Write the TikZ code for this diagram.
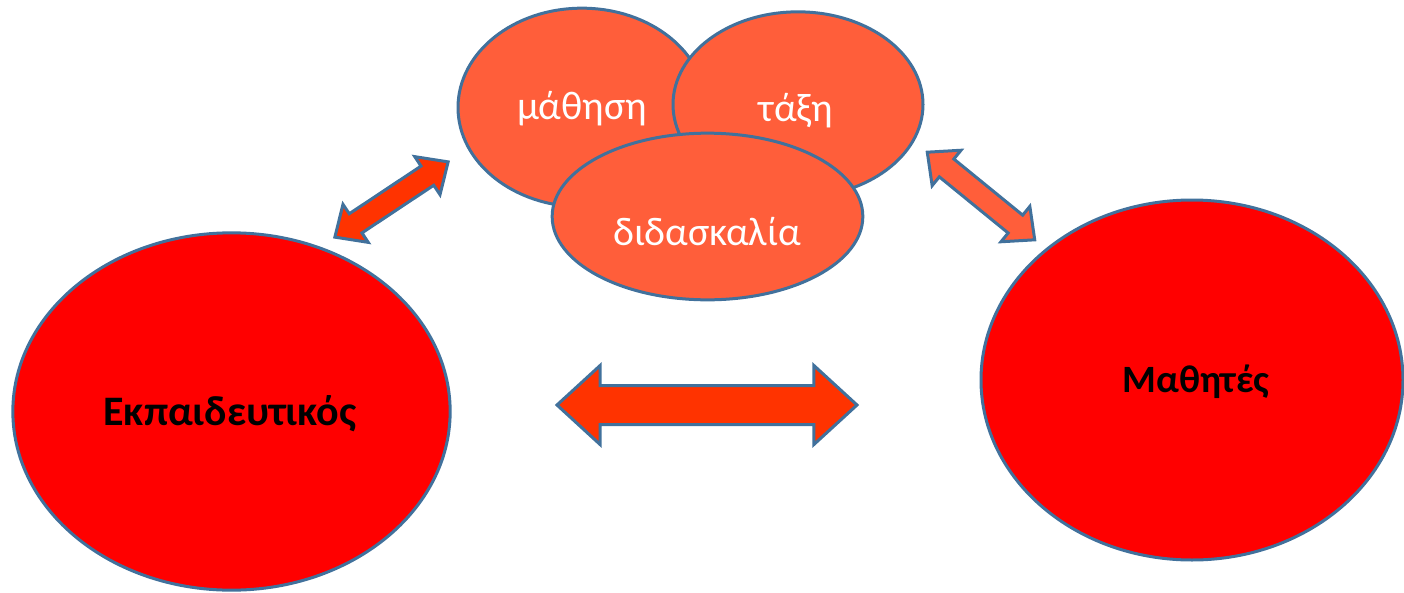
\documentclass[tikz,border=0pt]{standalone}
\usepackage{fontspec}
\setmainfont{Carlito}
\usetikzlibrary{shapes.geometric,shapes.arrows}
\definecolor{edgeblue}{HTML}{41719C}
\definecolor{bigred}{HTML}{FF0000}
\definecolor{smallorange}{HTML}{FF5E3A}
\definecolor{arrowred}{HTML}{FF3300}
\tikzset{
  bigell/.style={ellipse, draw=edgeblue, line width=2.25pt, fill=bigred, inner sep=0pt},
  smallell/.style={ellipse, draw=edgeblue, line width=2.25pt, fill=smallorange, inner sep=0pt},
  blockarr/.style={double arrow, draw=edgeblue, line width=2.25pt, double arrow tip angle=85},
  wlbl/.style={anchor=base, text=white, font=\fontsize{30}{36}\selectfont},
  blbl/.style={anchor=base, text=black, font=\bfseries\fontsize{30}{36}\selectfont},
}
\begin{document}
\begin{tikzpicture}[x=0.75pt,y=0.75pt,yscale=-1,xscale=1]
%set diagram left start at 0, and has height of 593
\useasboundingbox (0,0) rectangle (1404,593);

%Shape: Ellipse [mathisi]
\draw (582,107.5) node [smallell, minimum width=186pt, minimum height=149pt] (mathisi) {};
%Shape: Ellipse [taxi]
\draw (798,104.5) node [smallell, minimum width=187.5pt, minimum height=139pt] (taxi) {};
%Shape: Ellipse [didaskalia]
\draw (707.5,216.5) node [smallell, minimum width=233pt, minimum height=125pt] (didaskalia) {};
%Shape: Ellipse [ekpaideutikos]
\draw (231.5,411.5) node [bigell, minimum width=328pt, minimum height=268pt] (ekp) {};
%Shape: Ellipse [mathites]
\draw (1192,380) node [bigell, minimum width=316.5pt, minimum height=270pt] (mathites) {};

%Shape: Double Arrow [left]
\draw (391.5,199.5) node [blockarr, fill=arrowred, rotate=33.6, minimum height=102pt, inner sep=7.5pt, double arrow head extend=8.5pt] (arrleft) {};
%Shape: Double Arrow [right]
\draw (981,196) node [blockarr, fill=smallorange, rotate=-39.2, minimum height=104pt, inner sep=7.5pt, double arrow head extend=8.5pt] (arrright) {};
%Shape: Double Arrow [middle]
\draw (707,405) node [blockarr, fill=arrowred, minimum height=225pt, inner sep=13.5pt, double arrow head extend=15pt] (arrmid) {};

% Text Node
\draw (582,119) node [wlbl] (tmathisi) {μάθηση};
% Text Node
\draw (796,121) node [wlbl] (ttaxi) {τάξη};
% Text Node
\draw (707,245) node [wlbl] (tdidaskalia) {διδασκαλία};
% Text Node
\draw (230,425) node [blbl, font=\bfseries\fontsize{31.5}{38}\selectfont] (tekp) {Εκπαιδευτικός};
% Text Node
\draw (1196,392) node [blbl, font=\bfseries\fontsize{29}{35}\selectfont] (tmathites) {Μαθητές};

\end{tikzpicture}
\end{document}
